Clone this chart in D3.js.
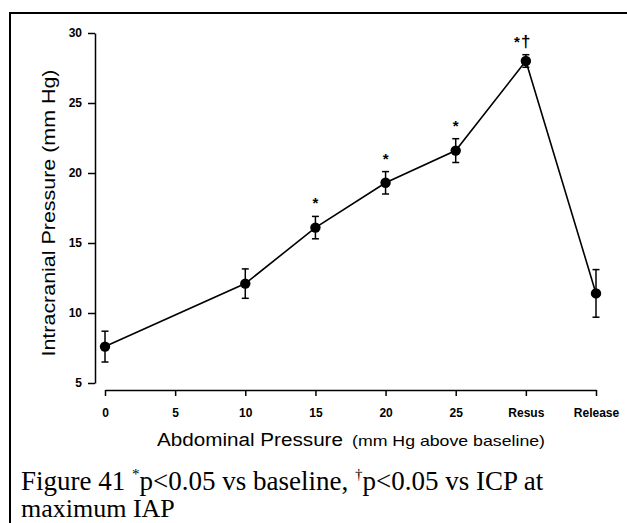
<!DOCTYPE html>
<html>
<head>
<meta charset="utf-8">
<script src="https://cdn.jsdelivr.net/npm/d3@7"></script>
<style>
  html, body { margin: 0; padding: 0; background: #fff; }
  svg { display: block; }
</style>
</head>
<body>
<svg id="chart" width="627" height="523"></svg>
<script>
// ---- data ----
const categories = ["0", "5", "10", "15", "20", "25", "Resus", "Release"];
const pointCategories = ["0", "10", "15", "20", "25", "Resus", "Release"];
const meanICP = [7.6, 12.1, 16.1, 19.3, 21.6, 28.0, 11.4];
const semICP = [1.1, 1.05, 0.8, 0.8, 0.85, 0.45, 1.7];
const significance = ["", "", "*", "*", "*", "*\u2020", ""];
const yTicks = [5, 10, 15, 20, 25, 30];

const svg = d3.select("#chart");

// frame
svg.append("path")
  .attr("d", "M10,523 L10,13 L627,13")
  .attr("fill", "none").attr("stroke", "#000").attr("stroke-width", 2);

const x = d3.scalePoint().domain(categories).range([105, 596]).padding(0);
const y = d3.scaleLinear().domain([5, 30]).range([383, 33]);

// axes
const yAxis = svg.append("g").attr("transform", "translate(95,0)")
  .call(d3.axisLeft(y).tickValues(yTicks).tickSize(7).tickSizeOuter(0).tickPadding(6));
const xAxis = svg.append("g").attr("transform", "translate(0,390)")
  .call(d3.axisBottom(x).tickSize(6).tickSizeOuter(0).tickPadding(12));

[yAxis, xAxis].forEach(g => {
  g.select(".domain").attr("stroke", "#000").attr("stroke-width", 1.5);
  g.selectAll(".tick line").attr("stroke", "#000").attr("stroke-width", 1.5);
  g.selectAll(".tick text")
    .attr("fill", "#000")
    .style("font-family", "'Liberation Sans', Arial, sans-serif")
    .style("font-weight", "bold")
    .style("font-size", "12px");
});

const pts = pointCategories.map((c, i) => ({ c, m: meanICP[i], e: semICP[i], s: significance[i] }));

// line
svg.append("path")
  .datum(pts)
  .attr("fill", "none").attr("stroke", "#000").attr("stroke-width", 1.6)
  .attr("d", d3.line().x(d => x(d.c)).y(d => y(d.m)));

// error bars
const eb = svg.append("g").attr("stroke", "#000").attr("stroke-width", 1.5);
pts.forEach(d => {
  const cx = x(d.c);
  eb.append("line").attr("x1", cx).attr("x2", cx).attr("y1", y(d.m + d.e)).attr("y2", y(d.m - d.e));
  eb.append("line").attr("x1", cx - 3.5).attr("x2", cx + 3.5).attr("y1", y(d.m + d.e)).attr("y2", y(d.m + d.e));
  eb.append("line").attr("x1", cx - 3.5).attr("x2", cx + 3.5).attr("y1", y(d.m - d.e)).attr("y2", y(d.m - d.e));
});

// markers
svg.append("g").selectAll("circle").data(pts).join("circle")
  .attr("cx", d => x(d.c)).attr("cy", d => y(d.m)).attr("r", 5.2).attr("fill", "#000");

// significance marks
const sg = svg.append("g")
  .style("font-family", "'Liberation Sans', Arial, sans-serif")
  .style("font-weight", "bold").attr("fill", "#000");
pts.filter(d => d.s).forEach(d => {
  const cx = x(d.c);
  const top = y(d.m + d.e);
  const hasDagger = d.s.includes("\u2020");
  sg.append("text")
    .attr("x", hasDagger ? cx - 9 : cx)
    .attr("y", top - 16 + 8)
    .attr("text-anchor", "middle")
    .style("font-size", "15px")
    .text("*");
  if (hasDagger) {
    sg.append("text")
      .attr("x", cx)
      .attr("y", top - 8)
      .attr("text-anchor", "middle")
      .style("font-size", "17px")
      .text("\u2020");
  }
});

// axis titles
svg.append("text")
  .attr("transform", "translate(55,213) rotate(-90)")
  .attr("text-anchor", "middle")
  .attr("textLength", 287).attr("lengthAdjust", "spacingAndGlyphs")
  .style("font-family", "'Liberation Sans', Arial, sans-serif")
  .style("font-size", "18px").attr("fill", "#000")
  .text("Intracranial Pressure (mm Hg)");

svg.append("text")
  .attr("x", 157).attr("y", 446)
  .attr("textLength", 186).attr("lengthAdjust", "spacingAndGlyphs")
  .style("font-family", "'Liberation Sans', Arial, sans-serif")
  .style("font-size", "18px").attr("fill", "#000")
  .text("Abdominal Pressure");
svg.append("text")
  .attr("x", 352).attr("y", 446)
  .attr("textLength", 193).attr("lengthAdjust", "spacingAndGlyphs")
  .style("font-family", "'Liberation Sans', Arial, sans-serif")
  .style("font-size", "15px").attr("fill", "#000")
  .text("(mm Hg above baseline)");

// caption
const cap = svg.append("text")
  .attr("x", 21).attr("y", 490)
  .style("font-family", "'Liberation Serif', 'Times New Roman', serif")
  .style("font-size", "27px").attr("fill", "#000");
cap.append("tspan").text("Figure 41 ");
cap.append("tspan").attr("dy", -11).style("font-size", "15px").text("*");
cap.append("tspan").attr("dy", 11).text("p<0.05 vs baseline, ");
cap.append("tspan").attr("dy", -11).style("font-size", "15px").text("\u2020");
cap.append("tspan").attr("dy", 11).text("p<0.05 vs ICP at");

svg.append("text")
  .attr("x", 21).attr("y", 517)
  .style("font-family", "'Liberation Serif', 'Times New Roman', serif")
  .style("font-size", "26px").attr("fill", "#000")
  .text("maximum IAP");
</script>
</body>
</html>
